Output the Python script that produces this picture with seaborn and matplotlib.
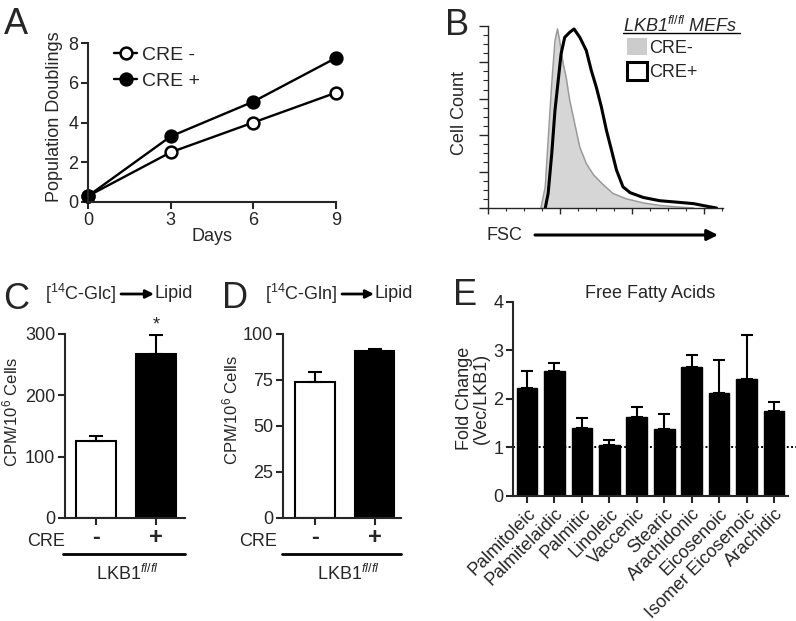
import numpy as np
import pandas as pd
import matplotlib
matplotlib.use('Agg')
import matplotlib.pyplot as plt
from matplotlib.patches import Patch
from matplotlib.ticker import MultipleLocator
import seaborn as sns

# A: population doublings
days = [0, 3, 6, 9]
pd_cre_neg = [0.3, 2.5, 4.0, 5.5]
pd_cre_pos = [0.3, 3.3, 5.05, 7.25]

# B: FSC histogram traces
fsc_neg_x = [0.74, 0.80, 0.84, 0.89, 0.935, 0.97, 1.00, 1.05, 1.09, 1.14, 1.21, 1.28,
             1.37, 1.47, 1.61, 1.74, 1.93, 2.16, 2.39, 2.63, 2.86]
fsc_neg_y = [0.0, 0.58, 1.86, 3.41, 4.59, 4.91, 4.59, 3.95, 3.59, 2.95, 2.31, 1.67,
             1.22, 0.91, 0.63, 0.40, 0.25, 0.14, 0.07, 0.03, 0.0]
fsc_pos_x = [0.80, 0.84, 0.89, 0.935, 0.98, 1.02, 1.07, 1.14, 1.20, 1.28, 1.37, 1.44,
             1.51, 1.58, 1.65, 1.72, 1.79, 1.88, 1.98, 2.16, 2.39, 2.63, 2.86, 3.04, 3.18]
fsc_pos_y = [0.0, 0.40, 1.49, 2.68, 3.50, 4.23, 4.68, 4.82, 4.91, 4.68, 4.32, 3.77,
             3.31, 2.77, 2.13, 1.59, 1.04, 0.58, 0.42, 0.29, 0.20, 0.16, 0.12, 0.05, 0.0]

# C / D: lipid synthesis
cre_groups = ['-', '+']
glc_mean = [125, 267]
glc_err = [9, 31]
gln_mean = [73.7, 90.9]
gln_err = [5.6, 1.1]

# E: free fatty acids
fatty_acids = ['Palmitoleic', 'Palmitelaidic', 'Palmitic', 'Linoleic', 'Vaccenic',
               'Stearic', 'Arachidonic', 'Eicosenoic', 'Isomer Eicosenoic', 'Arachidic']
fold_change = [2.22, 2.57, 1.40, 1.04, 1.61, 1.38, 2.66, 2.12, 2.41, 1.75]
fold_err = [0.35, 0.16, 0.19, 0.11, 0.22, 0.31, 0.25, 0.68, 0.91, 0.18]

sns.set_style('ticks')
plt.rcParams['font.family'] = 'Liberation Sans'
plt.rcParams['mathtext.fontset'] = 'custom'
plt.rcParams['mathtext.rm'] = 'Liberation Sans'
plt.rcParams['mathtext.it'] = 'Liberation Sans:italic'
plt.rcParams['mathtext.bf'] = 'Liberation Sans:bold'
plt.rcParams['axes.linewidth'] = 1.5

W, H = 796, 621
fig = plt.figure(figsize=(W / 100, H / 100), dpi=100)


def box(l, t, r, b):
    return [l / W, 1 - b / H, (r - l) / W, (b - t) / H]


def fpos(x, y):
    return (x / W, 1 - y / H)


FS = 13

# ---------------- A ----------------
axA = fig.add_axes(box(88, 43, 336, 202))
sns.lineplot(x=days, y=pd_cre_neg, ax=axA, color='k', linewidth=1.7, marker='o',
             markersize=8.5, markerfacecolor='white', markeredgecolor='k',
             markeredgewidth=1.8, clip_on=False, errorbar=None)
sns.lineplot(x=days, y=pd_cre_pos, ax=axA, color='k', linewidth=1.7, marker='o',
             markersize=8.5, markerfacecolor='k', markeredgecolor='k',
             markeredgewidth=1.8, clip_on=False, errorbar=None)
axA.set_xlim(0, 9)
axA.set_ylim(0, 8)
axA.set_xticks(days)
axA.set_yticks([0, 2, 4, 6, 8])
sns.despine(ax=axA)
axA.tick_params(width=1.5, length=5, labelsize=FS, pad=2)
axA.set_xlabel('Days', fontsize=FS)
axA.set_ylabel('Population Doublings', fontsize=FS)
axA.yaxis.set_label_coords(-0.10, 0.535)
axA.xaxis.set_label_coords(0.5, -0.165)
axA.legend(handles=axA.lines[:2], labels=['CRE -', 'CRE +'], loc='upper left',
           bbox_to_anchor=fpos(114, 46), bbox_transform=fig.transFigure,
           frameon=False, fontsize=14, handlelength=1.2, handletextpad=0.25,
           borderaxespad=0, borderpad=0, labelspacing=0.45)

# ---------------- B ----------------
axB = fig.add_axes(box(487.7, 25.7, 723, 208))
axB.fill_between(fsc_neg_x, fsc_neg_y, color='#d6d6d6', linewidth=0)
sns.lineplot(x=fsc_neg_x, y=fsc_neg_y, sort=False, estimator=None, color='#9a9a9a',
             linewidth=1.1, ax=axB)
sns.lineplot(x=fsc_pos_x, y=fsc_pos_y, sort=False, estimator=None, color='black',
             linewidth=2.2, ax=axB)
axB.set_xlim(0, 3.27)
axB.set_ylim(0, 5)
axB.set_xticks([0, 1, 2, 3])
axB.set_yticks([0, 1, 2, 3, 4, 5])
axB.xaxis.set_minor_locator(MultipleLocator(0.25))
axB.yaxis.set_minor_locator(MultipleLocator(0.25))
axB.set_xticklabels([])
axB.set_yticklabels([])
sns.despine(ax=axB)
for s in ['left', 'bottom']:
    axB.spines[s].set_linewidth(1.0)
axB.tick_params(axis='y', which='major', width=1.0, length=6.5)
axB.tick_params(axis='y', which='minor', width=0.8, length=3.4)
axB.tick_params(axis='x', which='major', width=1.0, length=4.5)
axB.tick_params(axis='x', which='minor', width=0.8, length=2.5)
axB.set_ylabel('Cell Count', fontsize=FS)
axB.yaxis.set_label_coords(-0.084, 0.52)
fig.legend(handles=[Patch(facecolor='#cccccc', edgecolor='none'),
                    Patch(facecolor='white', edgecolor='black', linewidth=2.2)],
           labels=['CRE-', 'CRE+'], loc='upper left', bbox_to_anchor=fpos(627, 38),
           frameon=False, fontsize=FS, handlelength=1.1, handleheight=1.1,
           handletextpad=0.15, labelspacing=0.3, borderaxespad=0, borderpad=0)
fig.text(*fpos(623, 26), r'LKB1$^{fl/fl}$ MEFs', fontsize=FS, style='italic', va='center')
fig.add_artist(plt.Line2D([623 / W, 740 / W], [1 - 33 / H, 1 - 33 / H], color='k', lw=1))
fig.text(*fpos(487, 235), 'FSC', fontsize=FS, va='center')
axB.annotate('', xy=fpos(718, 235), xytext=fpos(535, 235), xycoords='figure fraction',
             textcoords='figure fraction',
             arrowprops=dict(arrowstyle='-|>', lw=2.2, color='k', mutation_scale=16,
                             shrinkA=0, shrinkB=0))


# ---------------- C & D ----------------
def lipid_panel(ax, means, errs, ylim, yticks, xlim, cre_x, lkb_x, line_x0):
    dfp = pd.DataFrame({'CRE': cre_groups, 'val': means})
    sns.barplot(data=dfp, x='CRE', y='val', hue='CRE', palette=['white', 'black'],
                edgecolor='black', linewidth=1.5, width=0.66, saturation=1,
                legend=False, ax=ax)
    ax.errorbar([0, 1], means, yerr=[[0, 0], errs], fmt='none', ecolor='k',
                elinewidth=1.5, capsize=5, capthick=1.5)
    ax.set_xlim(*xlim)
    ax.set_ylim(*ylim)
    ax.set_yticks(yticks)
    sns.despine(ax=ax)
    ax.tick_params(width=1.5, length=5, labelsize=FS, pad=2)
    ax.tick_params(axis='x', labelsize=17, pad=1)
    for t in ax.get_xticklabels():
        t.set_fontweight('bold')
    ax.set_xlabel('')
    ax.set_ylabel(r'CPM/10$^6$ Cells', fontsize=12)
    ax.text(cre_x, -0.125, 'CRE', transform=ax.transAxes, ha='right', va='center',
            fontsize=FS)
    ax.plot([line_x0, 1.0], [-0.196, -0.196], transform=ax.transAxes, color='k',
            lw=2, clip_on=False)
    ax.text(lkb_x, -0.305, r'LKB1$^{fl/fl}$', transform=ax.transAxes, ha='center',
            va='center', fontsize=FS)


axC = fig.add_axes(box(65, 334, 185, 518))
lipid_panel(axC, glc_mean, glc_err, (0, 300), [0, 100, 200, 300], (-0.513, 1.487),
            0.0, 0.52, -0.017)
axC.yaxis.set_label_coords(-0.375, 0.576)
axC.text(1, glc_mean[1] + glc_err[1] + 3, '*', ha='center', va='bottom', fontsize=FS)

axD = fig.add_axes(box(283, 334, 401, 518))
lipid_panel(axD, gln_mean, gln_err, (0, 100), [0, 25, 50, 75, 100], (-0.53, 1.44),
            -0.05, 0.55, -0.008)
axD.yaxis.set_label_coords(-0.364, 0.587)

for x0, lbl, ax0, x1, xl in [(45, r'[$^{14}$C-Glc]', 121, 154, 155),
                             (265, r'[$^{14}$C-Gln]', 342, 374, 375)]:
    fig.text(*fpos(x0, 294), lbl, fontsize=FS, va='center')
    fig.text(*fpos(xl, 294), 'Lipid', fontsize=FS, va='center')
    axC.annotate('', xy=fpos(x1, 294), xytext=fpos(ax0, 294), xycoords='figure fraction',
                 textcoords='figure fraction',
                 arrowprops=dict(arrowstyle='-|>', lw=2, color='k', mutation_scale=12,
                                 shrinkA=0, shrinkB=0))

# ---------------- E ----------------
axE = fig.add_axes(box(513, 301.7, 788, 495.5))
axE.axhline(1, xmin=0, xmax=1.04, ls=(0, (1, 1.2)), color='k', lw=1.4, zorder=0,
            clip_on=False)
sns.barplot(x=fatty_acids, y=fold_change, color='black', saturation=1, width=0.755,
            edgecolor='black', ax=axE)
axE.errorbar(range(len(fatty_acids)), fold_change,
             yerr=[[0] * len(fold_err), fold_err], fmt='none', ecolor='k',
             elinewidth=1.5, capsize=4.5, capthick=1.5)
axE.set_xlim(-0.51, 9.51)
axE.set_ylim(0, 4)
axE.set_yticks([0, 1, 2, 3, 4])
sns.despine(ax=axE)
axE.tick_params(width=1.5, length=5, labelsize=FS, pad=2)
plt.setp(axE.get_xticklabels(), rotation=45, ha='right', rotation_mode='anchor')
axE.set_ylabel('Fold Change\n(Vec/LKB1)', fontsize=FS, linespacing=1.0)
axE.yaxis.set_label_coords(-0.084, 0.5)
axE.set_title('Free Fatty Acids', fontsize=FS, pad=2)

# panel letters
for letter, x, y in [('A', 4, 34), ('B', 445, 35), ('C', 3, 309), ('D', 222, 308),
                     ('E', 453, 305)]:
    fig.text(*fpos(x, y), letter, fontsize=26, va='baseline')

fig.savefig('out.png', dpi=100, facecolor='white')
